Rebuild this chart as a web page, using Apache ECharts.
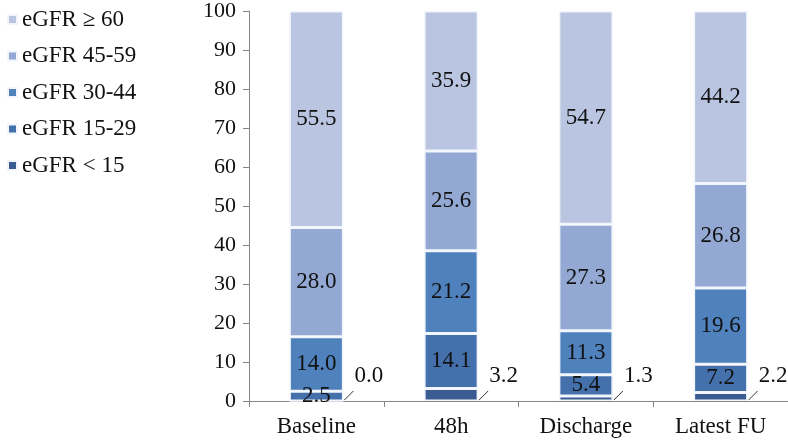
<!DOCTYPE html>
<html><head><meta charset="utf-8">
<script src="https://cdn.jsdelivr.net/npm/echarts@6/dist/echarts.min.js"></script>
<style>html,body{margin:0;padding:0;background:#fff}#c{width:788px;height:443px}</style>
</head><body><div id="c"></div>
<script>
const categories = ['Baseline', '48h', 'Discharge', 'Latest FU'];
const seriesNames = ['eGFR < 15', 'eGFR 15-29', 'eGFR 30-44', 'eGFR 45-59', 'eGFR \u2265 60'];
const lt15 = [0.0, 3.2, 1.3, 2.2];
const g15_29 = [2.5, 14.1, 5.4, 7.2];
const g30_44 = [14.0, 21.2, 11.3, 19.6];
const g45_59 = [28.0, 25.6, 27.3, 26.8];
const ge60 = [55.5, 35.9, 54.7, 44.2];
const yTicks = [0, 10, 20, 30, 40, 50, 60, 70, 80, 90, 100];

const colors = ['#3a5c92', '#4470ab', '#4f81bd', '#93a9d4', '#b9c5e1'];
const FONT = '"Liberation Serif", "Times New Roman", serif';
const values = [lt15, g15_29, g30_44, g45_59, ge60];

const bars = values.map((arr, i) => ({
  name: seriesNames[i],
  type: 'bar',
  stack: 'total',
  barWidth: 54,
  data: arr,
  itemStyle: { color: colors[i], borderColor: '#f2f6fc', borderWidth: 1.5 },
  label: {
    show: i !== 0,
    position: 'inside',
    formatter: p => p.value.toFixed(1),
    fontFamily: FONT, fontSize: 23, color: '#111'
  },
  emphasis: { disabled: true }
}));

const outside = {
  type: 'custom',
  name: 'outside',
  data: categories.map((c, i) => [i, lt15[i]]),
  z: 10,
  renderItem: function (params, api) {
    const p = api.coord([api.value(0), 0]);
    const x = p[0] + 27, y = p[1];
    return {
      type: 'group',
      children: [
        { type: 'line', shape: { x1: x + 1, y1: y - 1, x2: x + 10, y2: y - 10 },
          style: { stroke: '#333', lineWidth: 1 } },
        { type: 'text', x: x + 11, y: y - 25,
          style: { text: api.value(1).toFixed(1), font: '23px ' + FONT, fill: '#111',
                   verticalAlign: 'middle', align: 'left' } }
      ]
    };
  }
};

const chart = echarts.init(document.getElementById('c'));
chart.setOption({
  animation: false,
  color: colors,
  legend: {
    data: seriesNames.slice().reverse(),
    orient: 'vertical', left: 2, top: 3,
    itemWidth: 9, itemHeight: 9, itemGap: 13.5,
    icon: 'rect',
    textStyle: { fontFamily: FONT, fontSize: 23, color: '#111' }
  },
  grid: { left: 249, right: 0, top: 10, bottom: 42, containLabel: false },
  xAxis: {
    type: 'category', data: categories,
    axisLine: { lineStyle: { color: '#868686', width: 1 } },
    axisTick: { show: true, length: 6, lineStyle: { color: '#868686' } },
    axisLabel: { fontFamily: FONT, fontSize: 23, color: '#111', margin: 14 }
  },
  yAxis: {
    type: 'value', min: 0, max: 100, interval: 10,
    axisLine: { show: true, lineStyle: { color: '#868686', width: 1 } },
    axisTick: { show: true, length: 6, lineStyle: { color: '#868686' } },
    splitLine: { show: false },
    axisLabel: { fontFamily: FONT, fontSize: 22, color: '#111', margin: 13,
      formatter: v => yTicks.includes(v) ? String(v) : '' }
  },
  series: bars.concat([outside])
});
</script></body></html>
